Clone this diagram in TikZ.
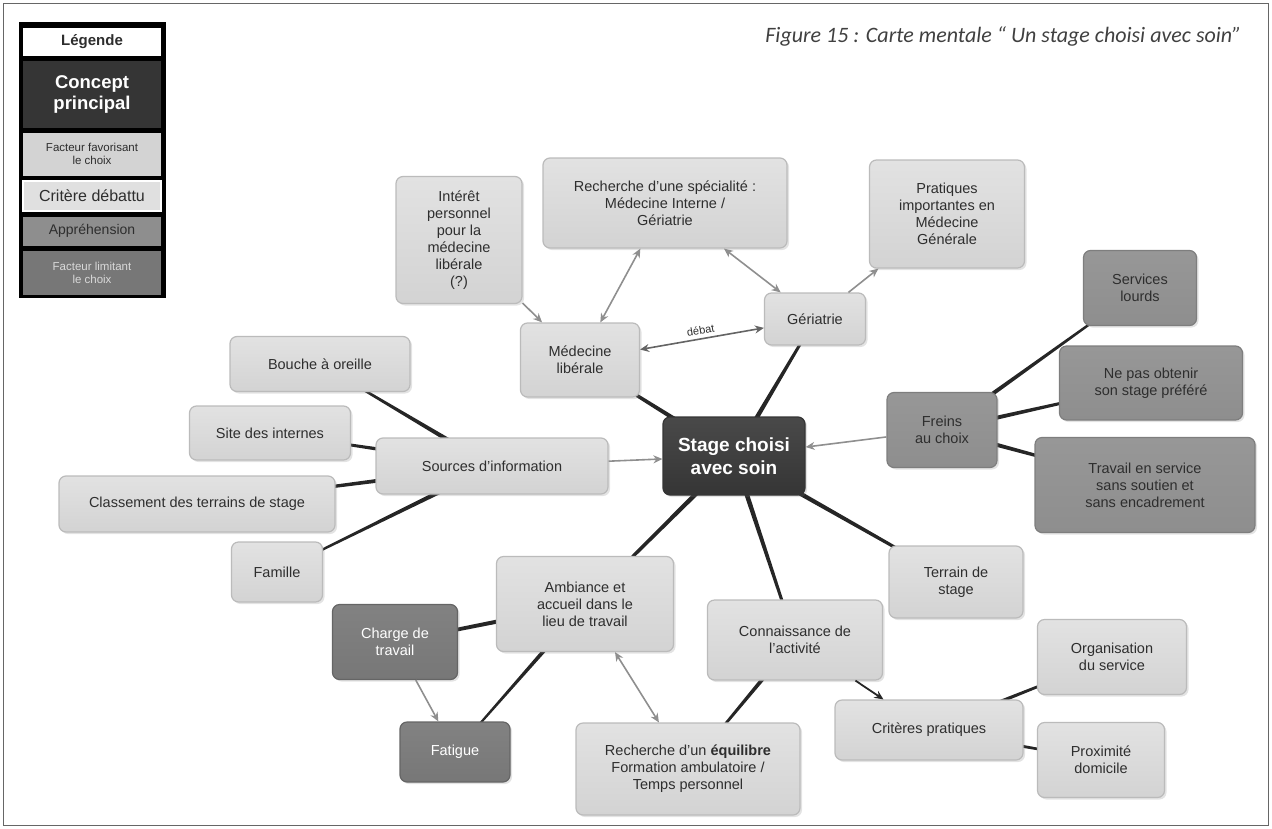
\documentclass[tikz,border=0pt]{standalone}
\usepackage{fontspec}
\setmainfont{Liberation Sans}
\newfontfamily\titlefont{Carlito}
\usetikzlibrary{calc,backgrounds,shadows,arrows.meta}

\definecolor{lightbox}{HTML}{D3D3D3}
\definecolor{lighttop}{HTML}{E2E2E2}
\definecolor{lightedge}{HTML}{BBBBBB}
\definecolor{fearbox}{HTML}{8E8E8E}
\definecolor{fearedge}{HTML}{7E7E7E}
\definecolor{limitbox}{HTML}{777777}
\definecolor{corebox}{HTML}{353535}
\definecolor{ink}{HTML}{2E2E2E}
\definecolor{linkdark}{HTML}{262626}
\definecolor{linkgray}{HTML}{8F8F8F}
\definecolor{titleink}{HTML}{404040}

% tapered branch between two nodes: half-width #3 at the parent, #4 at the child
\newcommand{\branchlink}[4]{%
  \fill[linkdark] ($(#1)!#3!90:(#2)$) -- ($(#2)!#4!-90:(#1)$) --
    ($(#2)!#4!90:(#1)$) -- ($(#1)!#3!-90:(#2)$) -- cycle;}

\tikzset{
  mapbox/.style={rounded corners=7pt, draw=lightedge, line width=1.2pt,
    top color=lighttop, bottom color=lightbox, text=ink, align=center,
    font=\fontsize{14.5}{17}\selectfont, inner sep=3pt,
    drop shadow={shadow xshift=2pt, shadow yshift=-2pt, opacity=0.22}},
  fearnode/.style={mapbox, draw=fearedge, top color=fearbox!92!white, bottom color=fearbox},
  limitnode/.style={mapbox, draw=limitbox!85!black, top color=limitbox!92!white,
    bottom color=limitbox, text=white},
  corenode/.style={mapbox, draw=corebox, top color=corebox!90!white, bottom color=corebox,
    text=white, font=\bfseries\fontsize{19}{23}\selectfont},
  garrow/.style={draw=linkgray, line width=1.6pt, -{Stealth[length=9pt,width=8pt]}},
  gboth/.style={draw=linkgray, line width=1.6pt, {Stealth[length=9pt,width=8pt]}-{Stealth[length=9pt,width=8pt]}},
  darrow/.style={draw=linkdark, line width=1.8pt, -{Stealth[length=9pt,width=8pt]}},
  legendcell/.style={minimum width=138pt, inner sep=1pt, align=center, text=ink},
}

\begin{document}
\begin{tikzpicture}[x=1pt,y=-1pt]
\useasboundingbox (0,0) rectangle (1272,828);
\draw[titleink!80, line width=1pt] (3.5,3.5) rectangle (1268.5,825);

% title
\node[anchor=east, text=titleink, font=\titlefont\itshape\fontsize{22}{26}\selectfont] (title) at (1245,36)
  {Figure 15 : Carte mentale “ Un stage choisi avec soin”};

% legend
\node[fill=black, minimum width=147pt, minimum height=276pt, inner sep=0pt] (legend) at (92.5,160) {};
\node[legendcell, fill=white, minimum height=28pt, font=\bfseries\fontsize{15}{17}\selectfont] (legtitle) at (92,41.5) {Légende};
\node[legendcell, fill=corebox, minimum height=67pt, text=white, font=\bfseries\fontsize{18.5}{21}\selectfont] (legcore) at (92,94) {Concept\\principal};
\node[legendcell, fill=lightbox, minimum height=43pt, font=\fontsize{11.5}{13}\selectfont] (legfavor) at (92,154) {Facteur favorisant\\le choix};
\node[legendcell, fill=lightbox!70!white, draw=white, line width=1.5pt, minimum height=30pt, font=\fontsize{16}{18}\selectfont] (legdebate) at (92,196) {Critère débattu};
\node[legendcell, fill=fearbox, minimum height=29pt, font=\fontsize{14}{16}\selectfont] (legfear) at (92,231) {Appréhension};
\node[legendcell, fill=limitbox, minimum height=44pt, text=white!85!black, font=\fontsize{11.5}{13}\selectfont] (leglimit) at (92,272.5) {Facteur limitant\\le choix};

% central concept
\node[corenode, minimum width=142pt, minimum height=78pt] (core) at (734,456) {Stage choisi\\avec soin};

% upper branch
\node[mapbox, minimum width=119pt, minimum height=74pt] (medlib) at (580,360) {Médecine\\libérale};
\node[mapbox, minimum width=101pt, minimum height=52pt] (geria) at (815,319) {Gériatrie};
\node[mapbox, minimum width=244pt, minimum height=90pt] (specialty) at (665,203) {Recherche d'une spécialité :\\Médecine Interne /\\Gériatrie};
\node[mapbox, minimum width=126pt, minimum height=127pt] (interest) at (459,240) {Intérêt\\personnel\\pour la\\médecine\\libérale\\(?)};
\node[mapbox, minimum width=155pt, minimum height=108pt] (practice) at (947,214) {Pratiques\\importantes en\\Médecine\\Générale};

% right branch: apprehensions
\node[fearnode, minimum width=110pt, minimum height=75pt] (brakes) at (942,430) {Freins\\au choix};
\node[fearnode, minimum width=113pt, minimum height=75pt] (heavy) at (1140,288) {Services\\lourds};
\node[fearnode, minimum width=183pt, minimum height=74pt] (missed) at (1151,383) {Ne pas obtenir\\son stage préféré};
\node[fearnode, minimum width=220pt, minimum height=95pt] (alone) at (1145,485) {Travail en service\\sans soutien et\\sans encadrement};

% left branch: information sources
\node[mapbox, minimum width=232pt, minimum height=56pt] (sources) at (492,466) {Sources d'information};
\node[mapbox, minimum width=180pt, minimum height=55pt] (mouth) at (320,364) {Bouche à oreille};
\node[mapbox, minimum width=161pt, minimum height=54pt] (site) at (270,433) {Site des internes};
\node[mapbox, minimum width=276pt, minimum height=56pt] (ranking) at (197,504) {Classement des terrains de stage};
\node[mapbox, minimum width=91pt, minimum height=60pt] (family) at (277,572) {Famille};

% lower left: working conditions
\node[mapbox, minimum width=177pt, minimum height=95pt] (mood) at (585,604) {Ambiance et\\accueil dans le\\lieu de travail};
\node[limitnode, minimum width=125pt, minimum height=75pt] (workload) at (395,642) {Charge de\\travail};
\node[limitnode, minimum width=110pt, minimum height=60pt] (fatigue) at (455,752) {Fatigue};
\node[mapbox, minimum width=224pt, minimum height=92pt] (balance) at (688,769) {Recherche d'un \textbf{équilibre}\\Formation ambulatoire /\\Temps personnel};

% lower right: practical criteria
\node[mapbox, minimum width=134pt, minimum height=72pt] (place) at (956,582) {Terrain de\\stage};
\node[mapbox, minimum width=175pt, minimum height=80pt] (knowledge) at (795,640) {Connaissance de\\l'activité};
\node[mapbox, minimum width=188pt, minimum height=60pt] (practical) at (929,730) {Critères pratiques};
\node[mapbox, minimum width=149pt, minimum height=75pt] (organisation) at (1112,657) {Organisation\\du service};
\node[mapbox, minimum width=127pt, minimum height=75pt] (home) at (1101,760) {Proximité\\domicile};

% tapered branches, behind the boxes
\begin{scope}[on background layer]
  \branchlink{core}{medlib}{2.6pt}{1.2pt}
  \branchlink{core}{geria}{2.6pt}{1.2pt}
  \branchlink{core}{place}{2.6pt}{1.2pt}
  \branchlink{core}{knowledge}{2.6pt}{1.2pt}
  \branchlink{core}{mood}{2.6pt}{1.2pt}
  \branchlink{brakes}{heavy}{2.4pt}{0.8pt}
  \branchlink{brakes}{missed}{2.4pt}{0.8pt}
  \branchlink{brakes}{alone}{2.4pt}{0.8pt}
  \branchlink{sources}{mouth}{2.6pt}{0.8pt}
  \branchlink{sources}{site}{2.6pt}{0.8pt}
  \branchlink{sources}{ranking}{2.6pt}{0.8pt}
  \branchlink{sources}{family}{2.6pt}{0.8pt}
  \branchlink{mood}{workload}{2.4pt}{1.6pt}
  \branchlink{mood}{fatigue}{2.4pt}{0.8pt}
  \branchlink{knowledge}{balance}{2.4pt}{0.8pt}
  \branchlink{practical}{organisation}{2.2pt}{0.8pt}
  \branchlink{practical}{home}{2.2pt}{0.8pt}
\end{scope}

% arrows
\draw[garrow] (sources) -- (core);
\draw[garrow] (brakes) -- (core);
\draw[gboth, draw=linkgray!70!black] (medlib) -- node[midway, above, sloped, text=ink, font=\fontsize{11}{13}\selectfont] (debate) {débat} (geria);
\draw[garrow] (interest) -- (medlib);
\draw[gboth] (specialty) -- (medlib);
\draw[gboth] (specialty) -- (geria);
\draw[garrow] (geria) -- (practice);
\draw[gboth] (mood) -- (balance);
\draw[garrow] (workload) -- (fatigue);
\draw[darrow] (knowledge) -- (practical);
\end{tikzpicture}
\end{document}
